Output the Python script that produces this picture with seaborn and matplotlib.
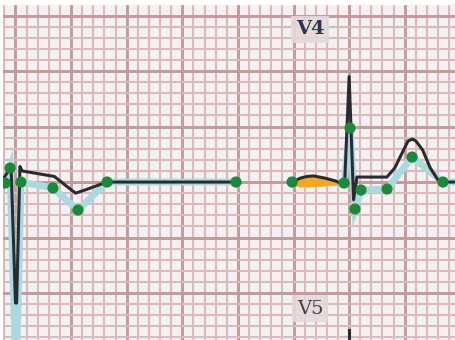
import numpy as np
import matplotlib
matplotlib.use("Agg")
import matplotlib.pyplot as plt
import seaborn as sns

# ECG strip in millimetres (1 small box = 1 mm), baseline = 0
# first beat (V4, cut at the left edge)
ecg1_t = [-1.1, -0.7, -0.4, 0.0, 0.1, 0.4, 0.6, 3.5, 4.5, 5.4, 6.3, 8.2, 19.8]
ecg1_v = [0.3, 0.9, 1.4, -10.9, -10.9, 1.4, 1.0, 0.5, -0.3, -1.0, -0.7, 0.0, 0.0]

# second beat
ecg2_t = [24.9, 25.6, 26.2, 26.8, 27.8, 28.8, 29.4, 29.6, 30.0, 30.4, 30.7, 33.4,
          34.1, 34.9, 35.3, 35.7, 36.0, 36.6, 37.3, 38.0, 38.4, 39.6]
ecg2_v = [0.0, 0.35, 0.5, 0.55, 0.36, 0.09, -0.18, -0.09, 9.5, -1.6, 0.45, 0.45,
          1.26, 2.9, 3.7, 3.87, 3.7, 2.9, 1.26, 0.18, 0.0, 0.0]

# fiducial points (green) and the fitted polyline (light blue)
fid1_t = [-0.94, -0.49, 0.49, 3.37, 5.62, 8.23, 19.83]
fid1_v = [-0.09, 1.26, 0.0, -0.54, -2.52, 0.0, 0.0]
fit1_t = [-0.94, -0.49, -0.04, 0.13, 0.49, 3.37, 5.62, 8.23, 19.83]
fit1_v = [0.0, 1.26, -14.8, -14.8, 0.0, -0.54, -2.52, 0.0, 0.0]

fid2_t = [24.87, 29.54, 30.08, 30.53, 31.07, 33.41, 35.66, 38.44]
fid2_v = [0.0, -0.09, 4.86, -2.43, -0.72, -0.63, 2.25, 0.0]
fit2_t = fid2_t + [39.6]
fit2_v = fid2_v + [0.0]

# P wave area (orange)
p_t = [25.0, 25.6, 26.2, 26.8, 27.8, 28.8, 29.3]
p_low = [-0.3, -0.45, -0.45, -0.42, -0.35, -0.25, -0.18]

# start of V5 trace at the bottom
v5_t = [30.0, 30.0]
v5_v = [-13.3, -14.6]

leads = {"V4": (26.5, 13.75), "V5": (26.5, -11.4)}

fig = plt.figure(figsize=(4.55, 3.4), dpi=100)
ax = fig.add_axes([3 / 455, 0, 452 / 455, 335 / 340])
ax.set_facecolor("#f3f1f1")

# ECG paper grid
ax.set_xlim(-1.124, 39.52)
ax.set_ylim(-14.23, 15.95)
ax.set_xticks(np.arange(0, 40, 5))
ax.set_xticks(np.arange(-1, 40, 1), minor=True)
ax.set_yticks(np.arange(-10, 16, 5))
ax.set_yticks(np.arange(-14, 16, 1), minor=True)
ax.grid(which="minor", color="#dcbaba", lw=1.5)
ax.grid(which="major", color="#c49a9a", lw=2.1)
ax.set_axisbelow(True)
ax.tick_params(which="both", length=0, labelbottom=False, labelleft=False)
for s in ax.spines.values():
    s.set_visible(False)

blue = "#a9dae2"
for t, v in [(fit1_t, fit1_v), (fit2_t, fit2_v)]:
    sns.lineplot(x=t, y=v, sort=False, estimator=None, color=blue, lw=5, ax=ax,
                 solid_joinstyle="miter", solid_capstyle="butt")

p_top = np.interp(p_t, ecg2_t, ecg2_v)
ax.fill_between(p_t, p_low, p_top, color="#f5a623", lw=0, zorder=3)

for t, v in [(ecg1_t, ecg1_v), (ecg2_t, ecg2_v), (v5_t, v5_v)]:
    sns.lineplot(x=t, y=v, sort=False, estimator=None, color="#2a2b30", lw=2.2,
                 ax=ax, zorder=4)

sns.scatterplot(x=fid1_t + fid2_t, y=fid1_v + fid2_v, color="#198a38", s=65,
                edgecolor="none", ax=ax, zorder=5)

for name, (x, y) in leads.items():
    ax.text(x, y, name, ha="center", va="center", fontsize=14,
            family="DejaVu Serif", weight="bold" if name == "V4" else "normal",
            color="#2a3350" if name == "V4" else "#3a4252",
            bbox=dict(boxstyle="square,pad=0.25", fc="#e6d9d9", ec="none", alpha=0.9),
            zorder=6)

fig.savefig("out.png", dpi=100)
